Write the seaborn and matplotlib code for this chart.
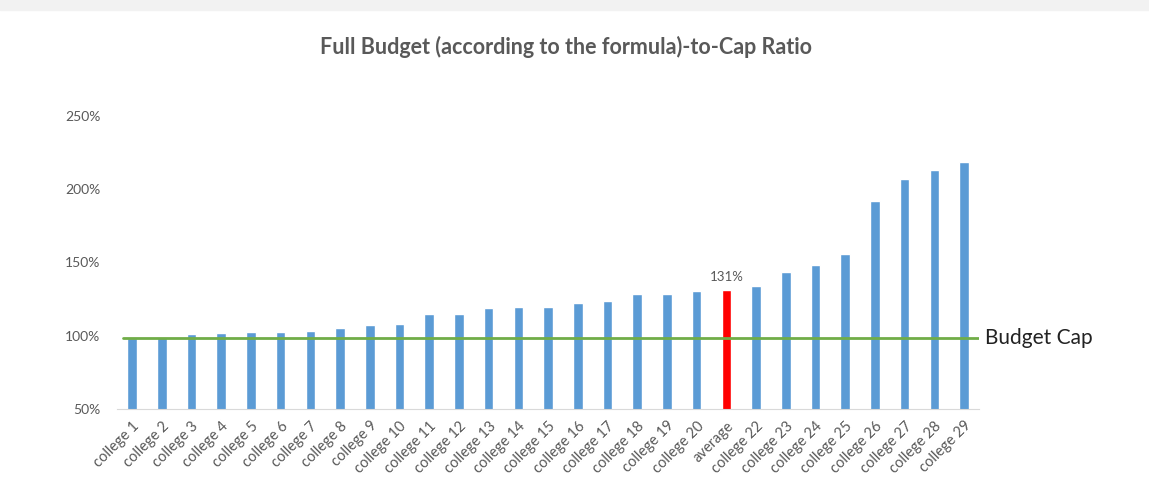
import numpy as np
import pandas as pd
import matplotlib
matplotlib.use('Agg')
import matplotlib.pyplot as plt
from matplotlib.ticker import FuncFormatter
import seaborn as sns

# ratio of full budget to cap, in percent
names = ['college %d' % i for i in range(1, 21)] + ['average'] + ['college %d' % i for i in range(22, 30)]
ratios = [98.2, 99.3, 101.0, 101.6, 102.5, 102.5, 103.4, 105.0, 107.3, 108.0,
          115.0, 115.0, 119.0, 119.8, 119.8, 122.0, 123.7, 128.4, 128.4, 130.7,
          131.0, 133.7, 143.2, 148.0, 155.7, 191.7, 206.7, 212.8, 218.5]
budget_cap = 98.6
avg_label = '131%'

blue = '#5b9bd5'
red = '#ff0000'
green = '#70ad47'
grey_text = '#595959'

df = pd.DataFrame({'name': names, 'ratio': ratios})
palette = {n: (red if n == 'average' else blue) for n in names}

sns.set_style('white')
plt.rcParams['font.family'] = ['Lato', 'DejaVu Sans']

fig = plt.figure(figsize=(11.49, 4.97), dpi=100)
ax = fig.add_axes([0.102, 0.177, 0.75, 0.59])

sns.barplot(x='name', y='ratio', hue='name', palette=palette, order=names,
            data=df, width=0.32, legend=False, ax=ax, saturation=1)

ax.plot([-0.3, len(names) - 0.5], [budget_cap, budget_cap], color=green, lw=2, zorder=3)
ax.text(len(names) - 0.28, budget_cap, 'Budget Cap', fontsize=15, color='#222222',
        va='center', ha='left')

avg_idx = names.index('average')
ax.text(avg_idx, ratios[avg_idx] + 5, avg_label, fontsize=9.5, color=grey_text,
        ha='center', va='bottom')

ax.set_ylim(50, 250)
ax.set_xlim(-0.5, len(names) - 0.5)
ax.set_yticks([50, 100, 150, 200, 250])
ax.yaxis.set_major_formatter(FuncFormatter(lambda v, p: '%d%%' % v))
ax.tick_params(axis='y', labelsize=10, labelcolor=grey_text, length=0, pad=12)
ax.tick_params(axis='x', labelsize=10.5, labelcolor=grey_text, length=0, pad=7)
plt.setp(ax.get_xticklabels(), rotation=45, ha='right', rotation_mode='anchor')
ax.set_xlabel('')
ax.set_ylabel('')

for s in ['top', 'right', 'left']:
    ax.spines[s].set_visible(False)
ax.spines['bottom'].set_color('#d9d9d9')

fig.text(0.493, 0.905, 'Full Budget (according to the formula)-to-Cap Ratio',
         fontsize=15.5, fontweight='bold', color=grey_text, ha='center', va='center')

# light screenshot band along the top edge
fig.patches.append(plt.Rectangle((0, 0.98), 1, 0.02, transform=fig.transFigure,
                                 color='#f2f2f2', zorder=0))

fig.savefig('out.png', dpi=100, facecolor='white')
